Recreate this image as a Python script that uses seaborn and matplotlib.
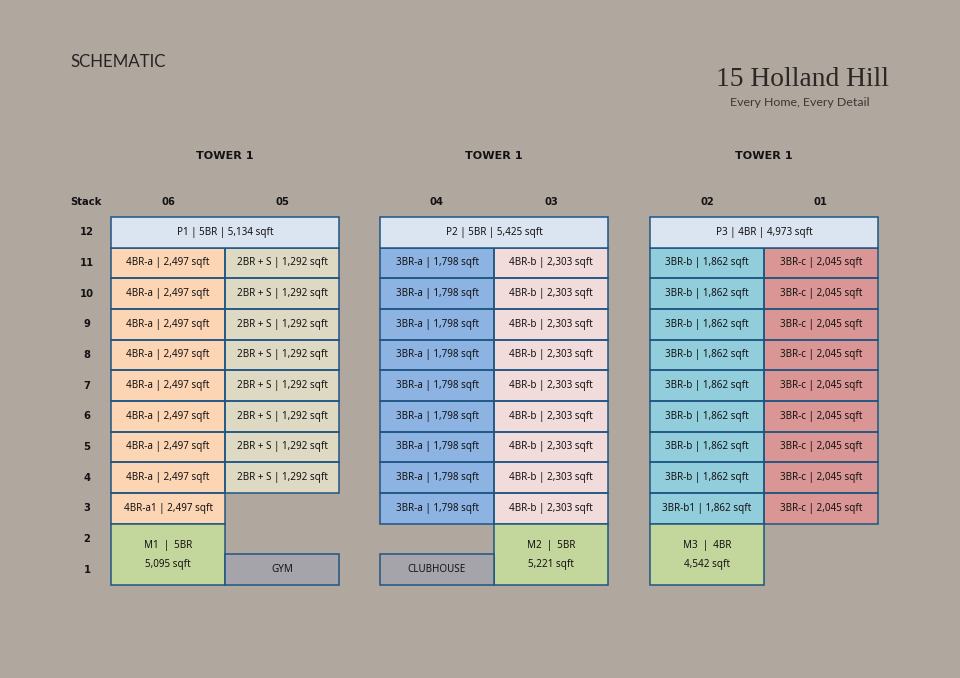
import numpy as np
import matplotlib
matplotlib.use("Agg")
import matplotlib.pyplot as plt
from matplotlib.colors import ListedColormap
import seaborn as sns

# ---- data ----
stacks = [12, 11, 10, 9, 8, 7, 6, 5, 4, 3, 2, 1]
tower_titles = ["TOWER 1", "TOWER 1", "TOWER 1"]
tower_columns = [["06", "05"], ["04", "03"], ["02", "01"]]

col06 = ["4BR-a | 2,497 sqft"] * 8 + ["4BR-a1 | 2,497 sqft"]
col05 = ["2BR + S | 1,292 sqft"] * 8
col04 = ["3BR-a | 1,798 sqft"] * 9
col03 = ["4BR-b | 2,303 sqft"] * 9
col02 = ["3BR-b | 1,862 sqft"] * 8 + ["3BR-b1 | 1,862 sqft"]
col01 = ["3BR-c | 2,045 sqft"] * 9
tower_units = [[col06, col05], [col04, col03], [col02, col01]]

penthouses = ["P1 | 5BR | 5,134 sqft", "P2 | 5BR | 5,425 sqft", "P3 | 4BR | 4,973 sqft"]
maisonettes = ["M1  |  5BR\n5,095 sqft", "M2  |  5BR\n5,221 sqft", "M3  |  4BR\n4,542 sqft"]
maisonette_col = [0, 1, 0]
facilities = ["GYM", "CLUBHOUSE", None]
facility_col = [1, 0, None]

type_names = ["4BR-a", "2BR + S", "3BR-a", "4BR-b", "3BR-b", "3BR-c"]
type_colors = ["#fcd5b4", "#ddd9c3", "#8db3e2", "#f2dcdb", "#92cddc", "#d99694"]
penthouse_color = "#dbe5f1"
maisonette_color = "#c3d69b"
facility_color = "#a5a4aa"
edge_color = "#1f5583"
bg_color = "#b0a89f"
ink = "#141214"

# ---- styling ----
sns.set_theme(style="white")
plt.rcParams["font.family"] = ["Noto Sans", "DejaVu Sans"]
W, H = 960, 678
fig = plt.figure(figsize=(W / 100, H / 100), dpi=100, facecolor=bg_color)
px = 0.72  # points per pixel
lw = 1.1
cell_fs = 7.1
head_fs = 7.2
bold_family = "DejaVu Sans"

lefts = [111, 380, 650]
top, bottom, width = 217, 585, 228
cmap = ListedColormap(type_colors)

for t, left in enumerate(lefts):
    ax = fig.add_axes([left / W, 1 - bottom / H, width / W, (bottom - top) / H])
    ax.set_facecolor("none")
    n_rows, n_cols = len(stacks), 2
    codes = np.full((n_rows, n_cols), np.nan)
    labels = np.full((n_rows, n_cols), "", dtype=object)
    for c, units in enumerate(tower_units[t]):
        for r, name in enumerate(units, start=1):
            kind = name.split(" | ")[0].replace("a1", "a").replace("b1", "b")
            codes[r, c] = type_names.index(kind)
            labels[r, c] = name
    sns.heatmap(codes, ax=ax, mask=np.isnan(codes), cmap=cmap, vmin=-0.5, vmax=5.5,
                cbar=False, annot=labels, fmt="", linewidths=0,
                annot_kws={"fontsize": cell_fs, "color": ink},
                xticklabels=tower_columns[t], yticklabels=stacks)
    # outlines only around real units, so the empty slots stay open
    rows, cols = np.nonzero(~np.isnan(codes))
    ax.bar(cols, np.ones(len(rows)), width=1, bottom=rows, align="edge", color="none",
           edgecolor=edge_color, linewidth=lw, clip_on=False)

    # merged cells: penthouse across both columns, maisonette across stacks 2-1
    ax.bar(0, 1, width=2, bottom=0, align="edge", color=penthouse_color,
           edgecolor=edge_color, linewidth=lw, clip_on=False)
    ax.text(1, 0.5, penthouses[t], ha="center", va="center", fontsize=cell_fs, color=ink)
    mc = maisonette_col[t]
    ax.bar(mc, 2, width=1, bottom=10, align="edge", color=maisonette_color,
           edgecolor=edge_color, linewidth=lw, clip_on=False)
    ax.text(mc + 0.5, 11.03, maisonettes[t], ha="center", va="center", fontsize=cell_fs,
            color=ink, linespacing=2.05)
    if facilities[t] is not None:
        fc = facility_col[t]
        ax.bar(fc, 1, width=1, bottom=11, align="edge", color=facility_color,
               edgecolor=edge_color, linewidth=lw, clip_on=False)
        ax.text(fc + 0.5, 11.5, facilities[t], ha="center", va="center",
                fontsize=cell_fs, color=ink)

    ax.set_xlim(0, 2)
    ax.set_ylim(12, 0)
    ax.xaxis.tick_top()
    ax.tick_params(axis="x", length=0, pad=7, labelsize=head_fs, labelcolor=ink)
    ax.tick_params(axis="y", length=0, labelrotation=0)
    for lab in ax.get_xticklabels():
        lab.set_fontweight("bold")
        lab.set_family(bold_family)
    if t == 0:
        ax.tick_params(axis="y", pad=24 * px, labelsize=head_fs, labelcolor=ink)
        for lab in ax.get_yticklabels():
            lab.set_fontweight("bold")
            lab.set_family(bold_family)
            lab.set_ha("center")
        ax.annotate("Stack", xy=(0, 1), xycoords="axes fraction", xytext=(-25, 15),
                    textcoords="offset pixels", ha="center", va="center",
                    fontsize=head_fs, fontweight="bold", family=bold_family, color=ink)
    else:
        ax.set_yticks([])
    ax.set_ylabel("")
    ax.set_title(tower_titles[t], fontsize=8.1, fontweight="bold", family=bold_family,
                 color=ink, pad=41.5)
    sns.despine(ax=ax, left=True, bottom=True, top=True, right=True)

fig.text(70 / W, 1 - 62 / H, "SCHEMATIC", fontsize=12.2, color="#262325",
         family="Lato", ha="left", va="center")
fig.text(802 / W, 1 - 79 / H, "15 Holland Hill", fontsize=19.8, color="#2c2724",
         family="Liberation Serif", ha="center", va="center")
fig.text(800 / W, 1 - 102 / H, "Every Home, Every Detail", fontsize=8.9, color="#3c3733",
         family="Lato", ha="center", va="center")

fig.savefig("out.png", dpi=100, facecolor=bg_color)
